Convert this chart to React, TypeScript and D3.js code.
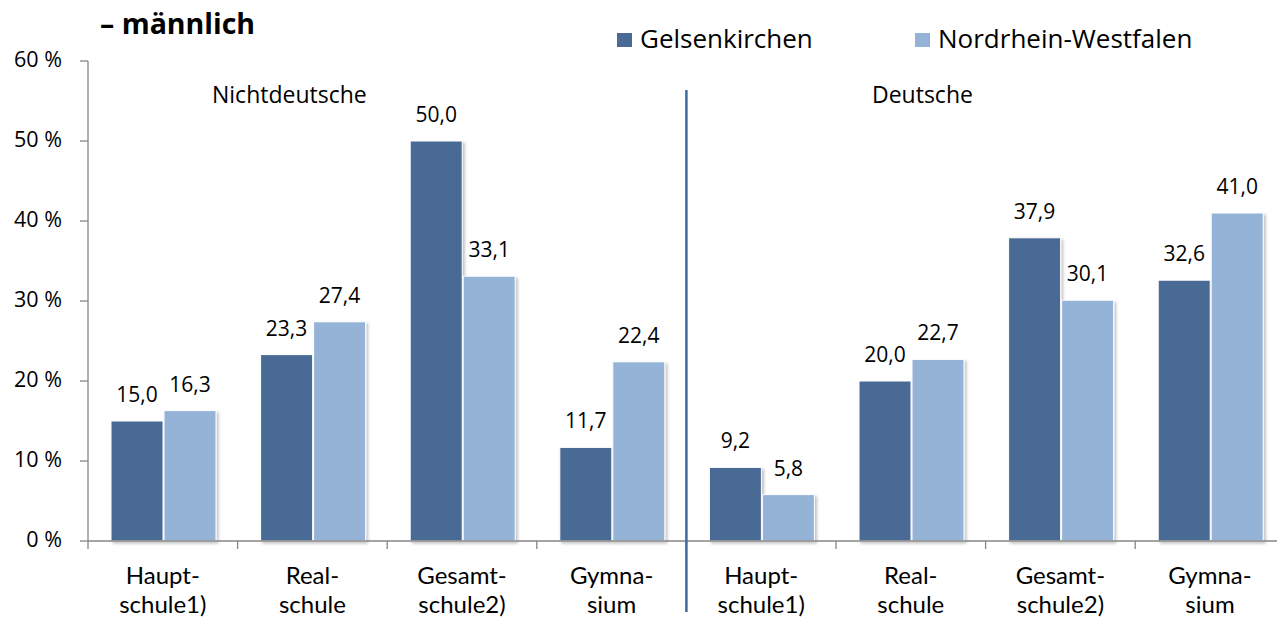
import React, { useEffect, useRef } from 'react'
import * as d3 from 'd3'

const categories = [
  ['Haupt-', 'schule1)'],
  ['Real-', 'schule'],
  ['Gesamt-', 'schule2)'],
  ['Gymna-', 'sium'],
  ['Haupt-', 'schule1)'],
  ['Real-', 'schule'],
  ['Gesamt-', 'schule2)'],
  ['Gymna-', 'sium'],
]
const gelsenkirchen = [15.0, 23.3, 50.0, 11.7, 9.2, 20.0, 37.9, 32.6]
const nrw = [16.3, 27.4, 33.1, 22.4, 5.8, 22.7, 30.1, 41.0]
const seriesNames = ['Gelsenkirchen', 'Nordrhein-Westfalen']
const groupNames = ['Nichtdeutsche', 'Deutsche']
const yTicks = [0, 10, 20, 30, 40, 50, 60]

const W = 1277
const H = 619
const FONT = '"Open Sans", Lato, sans-serif'
// kompaktere Zeilenhöhe für die zweizeiligen Kategorien
const CAT_FONT = 'Lato, "Open Sans", sans-serif'
const colors = ['#4a6a95', '#95b3d7']

const App = () => {
  const svgRef = useRef(null)

  useEffect(() => {
    const svg = d3.select(svgRef.current)
    svg.selectAll('*').remove()

    const left = 88
    const top = 61
    const bottom = 541
    const catW = 149.6

    const x = d3
      .scaleBand()
      .domain(categories.map((_, i) => String(i)))
      .range([left, left + catW * categories.length])
      .paddingInner(0)
      .paddingOuter(0)
    const y = d3.scaleLinear().domain([0, 60]).range([bottom, top])

    const defs = svg.append('defs')
    const f = defs
      .append('filter')
      .attr('id', 'shadow')
      .attr('x', '-20%')
      .attr('y', '-10%')
      .attr('width', '150%')
      .attr('height', '130%')
    f.append('feDropShadow')
      .attr('dx', 2)
      .attr('dy', 2)
      .attr('stdDeviation', 1.8)
      .attr('flood-color', '#000')
      .attr('flood-opacity', 0.25)

    // Titelrest
    svg
      .append('text')
      .text('– männlich')
      .attr('x', 100)
      .attr('y', 34)
      .style('font-family', FONT)
      .style('font-weight', 'bold')
      .style('font-size', '28.5px')

    // Legende
    const legendX = [617, 915]
    seriesNames.forEach((name, i) => {
      svg
        .append('rect')
        .attr('x', legendX[i])
        .attr('y', 33)
        .attr('width', 15)
        .attr('height', 14)
        .attr('fill', colors[i])
      svg
        .append('text')
        .text(name)
        .attr('x', legendX[i] + 23)
        .attr('y', 48)
        .style('font-family', FONT)
        .style('font-size', '26px')
    })

    // y-Achse
    const yAxis = svg.append('g').attr('transform', `translate(${left},0)`)
    yAxis
      .append('line')
      .attr('x1', 0)
      .attr('x2', 0)
      .attr('y1', top)
      .attr('y2', bottom)
      .attr('stroke', '#868686')
      .attr('stroke-width', 1.3)
    yTicks.forEach((t) => {
      yAxis
        .append('line')
        .attr('x1', -8)
        .attr('x2', 0)
        .attr('y1', y(t))
        .attr('y2', y(t))
        .attr('stroke', '#868686')
        .attr('stroke-width', 1.3)
      yAxis
        .append('text')
        .text(`${t} %`)
        .attr('x', -26)
        .attr('y', y(t))
        .attr('dy', '0.3em')
        .attr('text-anchor', 'end')
        .style('font-family', FONT)
        .style('font-size', '21.5px')
    })

    // Balken
    const barW = 52
    const offsets = [23, 76]
    ;[gelsenkirchen, nrw].forEach((vals, s) => {
      svg
        .append('g')
        .selectAll('rect')
        .data(vals)
        .join('rect')
        .attr('x', (_, i) => x(String(i)) + offsets[s])
        .attr('y', (d) => y(d))
        .attr('width', barW)
        .attr('height', (d) => bottom - y(d))
        .attr('fill', colors[s])
        .attr('stroke', '#fff')
        .attr('stroke-width', 1)
        .attr('filter', 'url(#shadow)')

      svg
        .append('g')
        .selectAll('text')
        .data(vals)
        .join('text')
        .text((d) => d.toFixed(1).replace('.', ','))
        .attr('x', (_, i) => x(String(i)) + offsets[s] + barW / 2)
        .attr('y', (d) => y(d) - 19)
        .attr('text-anchor', 'middle')
        .style('font-family', FONT)
        .style('font-size', '21px')
    })

    // x-Achse
    const xAxis = svg.append('g')
    xAxis
      .append('line')
      .attr('x1', left)
      .attr('x2', left + catW * categories.length)
      .attr('y1', bottom)
      .attr('y2', bottom)
      .attr('stroke', '#868686')
      .attr('stroke-width', 1.3)
    d3.range(categories.length + 1).forEach((i) => {
      const xx = left + catW * i
      xAxis
        .append('line')
        .attr('x1', xx)
        .attr('x2', xx)
        .attr('y1', bottom)
        .attr('y2', bottom + 8)
        .attr('stroke', '#868686')
        .attr('stroke-width', 1.3)
    })
    categories.forEach((lines, i) => {
      const cx = x(String(i)) + x.bandwidth() / 2
      lines.forEach((ln, j) => {
        xAxis
          .append('text')
          .text(ln)
          .attr('x', cx)
          .attr('y', 584 + j * 29)
          .attr('text-anchor', 'middle')
          .style('font-family', CAT_FONT)
          .style('font-size', '24px')
      })
    })

    // Trennlinie und Gruppen
    const divX = left + catW * 4
    svg
      .append('line')
      .attr('x1', divX)
      .attr('x2', divX)
      .attr('y1', 90)
      .attr('y2', 612)
      .attr('stroke', '#3f6aa0')
      .attr('stroke-width', 2.5)
    svg
      .append('text')
      .text(groupNames[0])
      .attr('x', 212)
      .attr('y', 103)
      .style('font-family', FONT)
      .style('font-size', '23px')
    svg
      .append('text')
      .text(groupNames[1])
      .attr('x', 872)
      .attr('y', 103)
      .style('font-family', FONT)
      .style('font-size', '23px')
  }, [])

  return (
    <svg
      ref={svgRef}
      width={W}
      height={H}
      style={{ position: 'absolute', left: 0, top: 0, background: '#fff', overflow: 'hidden' }}
    ></svg>
  )
}

export default App
